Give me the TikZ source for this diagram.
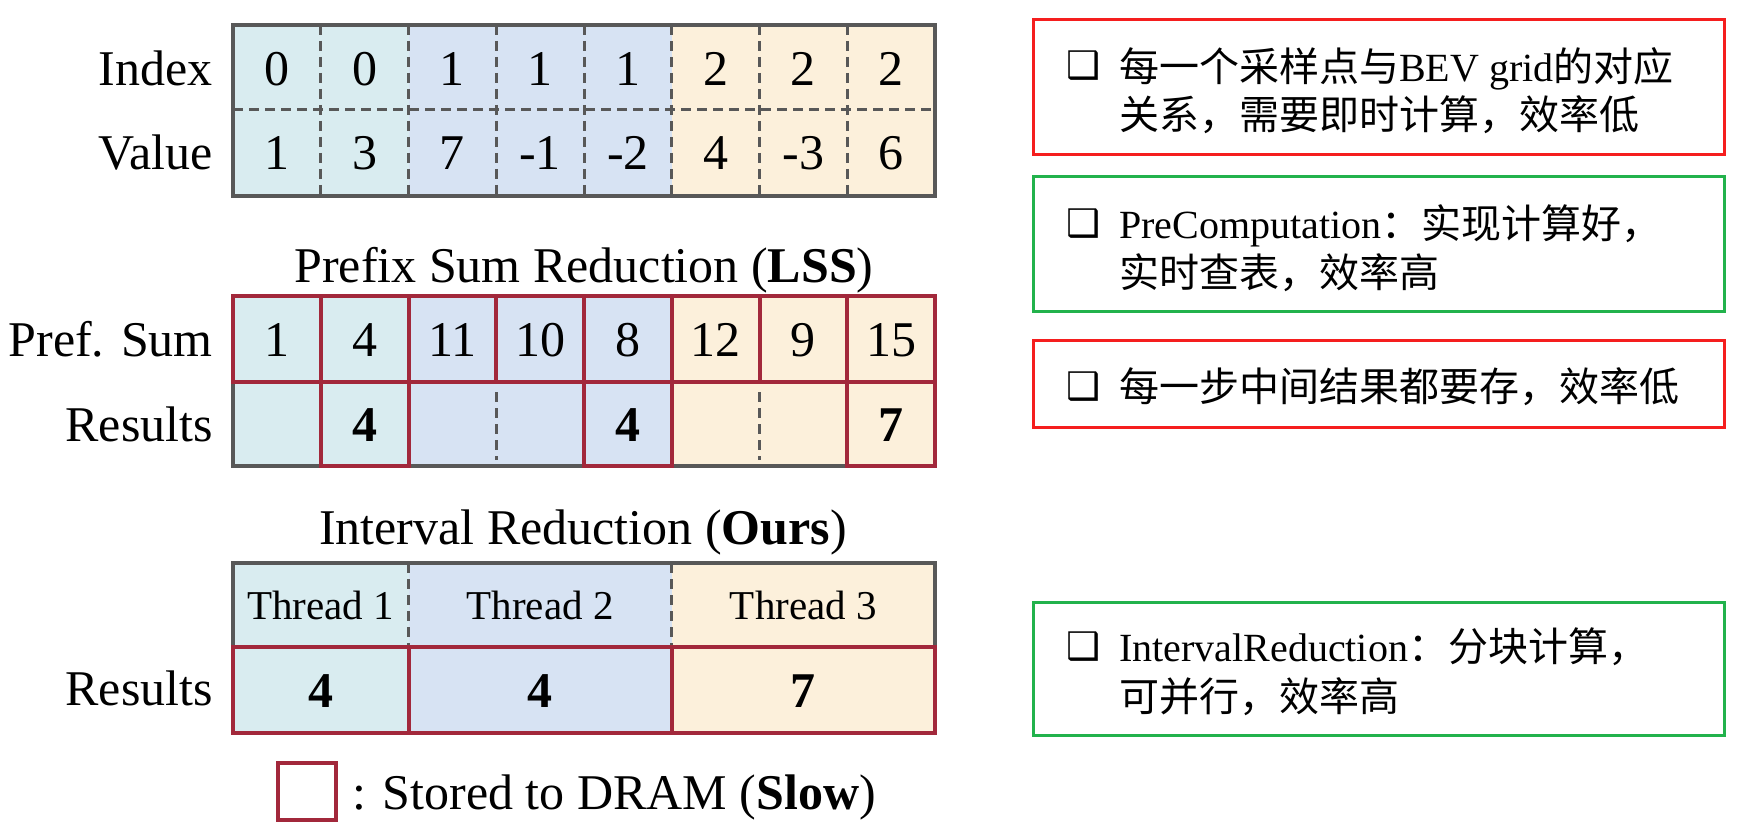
\documentclass[tikz,border=0pt]{standalone}
\usepackage{fontspec}
\setmainfont{Liberation Serif}
\newfontfamily\cjk{Noto Sans CJK SC}
\newfontfamily\symfont{DejaVu Sans}
\definecolor{cA}{HTML}{D9ECF0}
\definecolor{cB}{HTML}{D7E3F3}
\definecolor{cC}{HTML}{FCF0DB}
\definecolor{grayline}{HTML}{585858}
\definecolor{maroon}{HTML}{A2283B}
\definecolor{boxred}{HTML}{F51E1E}
\definecolor{boxgreen}{HTML}{22B24C}
\begin{document}
\begin{tikzpicture}[x=1pt,y=-1pt,
  big/.style={font=\fontsize{50}{60}\selectfont, inner sep=0pt, anchor=base},
  lab/.style={font=\fontsize{50}{60}\selectfont, inner sep=0pt, anchor=base east},
  thr/.style={font=\fontsize{41}{50}\selectfont, inner sep=0pt, anchor=base},
  outer/.style={draw=grayline, line width=4pt},
  dashln/.style={draw=grayline, line width=3pt, dash pattern=on 10pt off 6pt},
  redcell/.style={draw=maroon, line width=4pt},
  note/.style={font=\fontsize{40}{49}\selectfont, inner sep=0pt, anchor=base west},
  chk/.style={font=\symfont\bfseries\fontsize{38}{44}\selectfont, inner sep=0pt, anchor=base},
  redbox/.style={draw=boxred, line width=3pt},
  greenbox/.style={draw=boxgreen, line width=3pt}]
\useasboundingbox (0,0) rectangle (1755,837);
\fill[white] (0,0) rectangle (1755,837);
\def\W{87.75}
% ---------- fills ----------
\foreach \ya/\yb in {25/196, 296/466, 563/733}{
  \fill[cA] (233,\ya) rectangle (408.5,\yb);
  \fill[cB] (408.5,\ya) rectangle (671.75,\yb);
  \fill[cC] (671.75,\ya) rectangle (935,\yb);
}
% ---------- top table ----------
\foreach \i in {1,...,7}{
  \draw[dashln] ({233+\i*\W},25) -- ({233+\i*\W},196);
}
\draw[dashln] (233,110) -- (935,110);
\draw[outer] (233,25) rectangle (935,196);
\node[lab] (lidx) at (213,86) {Index};
\node[lab] (lval) at (213,170) {Value};
\foreach \t [count=\i] in {0,0,1,1,1,2,2,2}{
  \node[big] (idx\i) at ({233+(\i-0.5)*\W},86) {\t};
}
\foreach \t [count=\i] in {1,3,7,-1,-2,4,-3,6}{
  \node[big] (val\i) at ({233+(\i-0.5)*\W},170) {\t};
}
% ---------- middle table ----------
\node[big] (t1) at (584,282) {Prefix Sum Reduction (\textbf{LSS})};
\draw[outer] (233,296) rectangle (935,466);
\draw[dashln] (496.25,392) -- (496.25,460);
\draw[dashln] (759.5,392) -- (759.5,460);
\foreach \i in {1,...,8}{
  \draw[redcell] ({233+(\i-1)*\W},296) rectangle ({233+\i*\W},382);
}
\foreach \i in {2,5,8}{
  \draw[redcell] ({233+(\i-1)*\W},382) rectangle ({233+\i*\W},466);
}
\node[lab] (lps) at (213,356) {Pref. Sum};
\node[lab] (lres1) at (213,441) {Results};
\foreach \t [count=\i] in {1,4,11,10,8,12,9,15}{
  \node[big] (ps\i) at ({233+(\i-0.5)*\W},356) {\t};
}
\node[big] (r2) at ({233+1.5*\W},441) {\textbf{4}};
\node[big] (r5) at ({233+4.5*\W},441) {\textbf{4}};
\node[big] (r8) at ({233+7.5*\W},441) {\textbf{7}};
% ---------- bottom table ----------
\node[big] (t2) at (583,544) {Interval Reduction (\textbf{Ours})};
\draw[dashln] (408.5,563) -- (408.5,647);
\draw[dashln] (671.75,563) -- (671.75,647);
\draw[outer] (233,647) -- (233,563) -- (935,563) -- (935,647);
\draw[redcell] (233,647) rectangle (408.5,733);
\draw[redcell] (408.5,647) rectangle (671.75,733);
\draw[redcell] (671.75,647) rectangle (935,733);
\node[thr] (th1) at (320.75,619) {Thread 1};
\node[thr] (th2) at (540.1,619) {Thread 2};
\node[thr] (th3) at (803.4,619) {Thread 3};
\node[lab] (lres2) at (213,705) {Results};
\node[big] (q1) at (320.75,707) {\textbf{4}};
\node[big] (q2) at (540.1,707) {\textbf{4}};
\node[big] (q3) at (803.4,707) {\textbf{7}};
% ---------- legend ----------
\draw[redcell] (278,763) rectangle (336,820);
\node[big, anchor=base west] (leg) at (352,809) {: Stored to DRAM (\textbf{Slow})};
% ---------- right notes ----------
\draw[redbox] (1033,20) rectangle (1724,155);
\draw[greenbox] (1033,177) rectangle (1724,311);
\draw[redbox] (1033,340) rectangle (1724,427);
\draw[greenbox] (1033,602) rectangle (1724,735);
\node[chk] (c1) at (1084,79) {❑};
\node[note] (n1a) at (1119,82) {{\cjk 每一个采样点与}BEV grid{\cjk 的对应}};
\node[note] (n1b) at (1119,130) {{\cjk 关系，需要即时计算，效率低}};
\node[chk] (c2) at (1084,236) {❑};
\node[note] (n2a) at (1119,238) {PreComputation{\cjk ：实现计算好，}};
\node[note] (n2b) at (1119,287) {{\cjk 实时查表，效率高}};
\node[chk] (c3) at (1084,399) {❑};
\node[note] (n3a) at (1119,401) {{\cjk 每一步中间结果都要存，效率低}};
\node[chk] (c4) at (1084,659) {❑};
\node[note] (n4a) at (1119,661) {IntervalReduction{\cjk ：分块计算，}};
\node[note] (n4b) at (1119,711) {{\cjk 可并行，效率高}};
\end{tikzpicture}
\end{document}
